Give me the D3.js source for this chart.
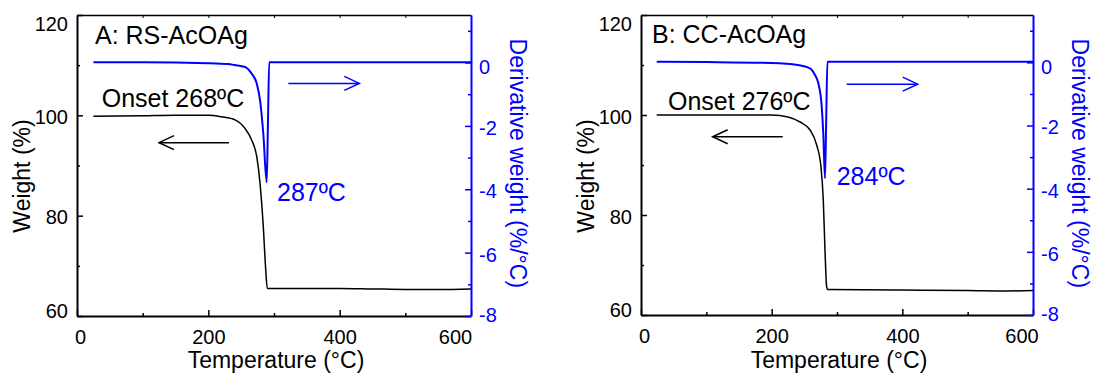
<!DOCTYPE html>
<html>
<head>
<meta charset="utf-8">
<script src="https://cdn.jsdelivr.net/npm/d3@7/dist/d3.min.js"></script>
<style>
  html, body { margin: 0; padding: 0; background: #fff; }
  svg { display: block; font-family: "Liberation Sans", Arial, sans-serif; }
</style>
</head>
<body>
<svg id="chart" width="1097" height="376"></svg>
<script>
// ---------------- DATA ----------------
// Panel A: RS-AcOAg
const tempA_weight = [25, 100, 150, 200, 220, 240.6, 255.8, 266, 273.7, 278.7, 283.7, 287.4, 289.8, 300, 400, 450, 500, 550, 600];
const weightA      = [99.8, 99.9, 100, 100, 99.7, 99.1, 97.4, 95.1, 91.8, 86.5, 77.8, 69.2, 65.5, 65.5, 65.5, 65.4, 65.3, 65.3, 65.4];
const tempA_deriv  = [25, 100, 200, 230, 240, 255.8, 266, 273.7, 278.7, 283.7, 288.9, 290.8, 292.7, 350, 450, 600];
const derivA       = [0.01, 0.01, -0.02, -0.05, -0.08, -0.14, -0.35, -0.66, -1.19, -2.24, -3.78, -1.9, 0.01, 0.01, 0.01, 0.01];

// Panel B: CC-AcOAg
const tempB_weight = [24, 100, 200, 225, 243.4, 258.7, 268.9, 275.5, 279, 281.6, 284.2, 286, 400, 500, 560, 600];
const weightB      = [100, 100, 100, 99.6, 98.6, 97.0, 94.0, 89.6, 83.0, 73.0, 65.6, 65.1, 65.0, 64.9, 64.8, 64.9];
const tempB_deriv  = [24, 100, 200, 240, 258.7, 266.3, 271.4, 276.6, 279.0, 281.6, 283.5, 285.3, 400, 600];
const derivB       = [0.02, 0.01, -0.02, -0.08, -0.19, -0.40, -0.66, -1.40, -2.25, -3.67, -1.8, 0.02, 0.02, 0.02];

// Axis ticks
const xMajorTicks = [0, 200, 400, 600];
const xMinorTicks = [100, 300, 500];
const weightMajorTicks = [60, 80, 100, 120];
const weightMinorTicks = [70, 90, 110];
const derivMajorTicks = [0, -2, -4, -6, -8];
const derivMinorTicks = [1, -1, -3, -5, -7];

// Labels
const titles = ["A: RS-AcOAg", "B: CC-AcOAg"];
const onsetLabels = ["Onset 268ºC", "Onset 276ºC"];
const peakLabels = ["287ºC", "284ºC"];
const xTitle = "Temperature (°C)";
const yLeftTitle = "Weight (%)";
const yRightTitle = "Derivative weight (%/°C)";

// ---------------- LAYOUT ----------------
const svg = d3.select("#chart");
const BLUE = "#0000ff";
const fmt = d => String(d);   // plain hyphen-minus like the original

const panels = [
  { x0: 77, x1: 471, y0: 15, y1: 316,
    tw: tempA_weight, w: weightA, td: tempA_deriv, d: derivA,
    title: titles[0], onset: onsetLabels[0], peak: peakLabels[0],
    titlePos: [95, 44], onsetPos: [101.7, 106.7], peakPos: [277, 200.5],
    blackArrow: { from: 231.5, to: 124.9, w: 94.55 },
    blueArrow: { from: 321.8, to: 429.9, d: -0.66 },
    lastXShift: -16 },
  { x0: 641, x1: 1033, y0: 15, y1: 315,
    tw: tempB_weight, w: weightB, td: tempB_deriv, d: derivB,
    title: titles[1], onset: onsetLabels[1], peak: peakLabels[1],
    titlePos: [652, 43.3], onsetPos: [668, 110], peakPos: [836.7, 185],
    blackArrow: { from: 216.9, to: 109.7, w: 95.64 },
    blueArrow: { from: 314.9, to: 423.5, d: -0.69 },
    lastXShift: -11.5 }
];

panels.forEach(p => {
  const x = d3.scaleLinear().domain([0, 600]).range([p.x0, p.x1]);
  const yW = d3.scaleLinear().domain([60, 120]).range([p.y1, p.y0]);
  const yD = d3.scaleLinear().domain([-8, 1.5]).range([p.y1, p.y0]);
  const g = svg.append("g");

  // ---- Curves ----
  const wData = p.tw.map((t, i) => [t, p.w[i]]);
  const dData = p.td.map((t, i) => [t, p.d[i]]);
  g.append("path")
    .datum(dData)
    .attr("fill", "none").attr("stroke", BLUE).attr("stroke-width", 2)
    .attr("d", d3.line().x(v => x(v[0])).y(v => yD(v[1])).curve(d3.curveMonotoneX));
  g.append("path")
    .datum(wData)
    .attr("fill", "none").attr("stroke", "#000").attr("stroke-width", 1.5)
    .attr("d", d3.line().x(v => x(v[0])).y(v => yW(v[1])).curve(d3.curveMonotoneX));

  // ---- Axes ----
  const fontTick = "20px";
  const bx = g.append("g").attr("transform", `translate(0,${p.y1})`)
    .call(d3.axisBottom(x).tickValues(xMajorTicks).tickSizeInner(-6).tickSizeOuter(0).tickPadding(14).tickFormat(fmt));
  bx.select(".domain").attr("stroke-width", 2);
  bx.selectAll(".tick line").attr("stroke-width", 1.5);
  bx.selectAll(".tick text").attr("font-size", fontTick).attr("fill", "#000")
    .attr("font-family", "Liberation Sans, Arial, sans-serif")
    .attr("dx", d => d === 600 ? p.lastXShift : (d === 0 ? 3 : 0));
  const bxm = g.append("g").attr("transform", `translate(0,${p.y1})`)
    .call(d3.axisBottom(x).tickValues(xMinorTicks).tickSizeInner(-3).tickSizeOuter(0).tickFormat(""));
  bxm.select(".domain").remove();
  bxm.selectAll(".tick line").attr("stroke-width", 1.5);
  const tx = g.append("g").attr("transform", `translate(0,${p.y0})`)
    .call(d3.axisTop(x).tickValues([100, 200, 300, 400, 500]).tickSizeInner(-3).tickSizeOuter(0).tickFormat(""));
  tx.select(".domain").attr("stroke-width", 1.5);

  const ly = g.append("g").attr("transform", `translate(${p.x0},0)`)
    .call(d3.axisLeft(yW).tickValues(weightMajorTicks).tickSizeInner(-6).tickSizeOuter(0).tickPadding(9).tickFormat(fmt));
  ly.select(".domain").attr("stroke-width", 2);
  ly.selectAll(".tick line").attr("stroke-width", 1.5);
  ly.selectAll(".tick text").attr("font-size", fontTick).attr("fill", "#000")
    .attr("font-family", "Liberation Sans, Arial, sans-serif")
    .attr("dy", d => d === 120 ? "0.75em" : (d === 60 ? "0.08em" : "0.4em"));
  const lym = g.append("g").attr("transform", `translate(${p.x0},0)`)
    .call(d3.axisLeft(yW).tickValues(weightMinorTicks).tickSizeInner(-3).tickSizeOuter(0).tickFormat(""));
  lym.select(".domain").remove();
  lym.selectAll(".tick line").attr("stroke-width", 1.5);

  const ry = g.append("g").attr("transform", `translate(${p.x1},0)`)
    .call(d3.axisRight(yD).tickValues(derivMajorTicks).tickSizeInner(-6).tickSizeOuter(0).tickPadding(8).tickFormat(fmt));
  ry.select(".domain").attr("stroke", BLUE).attr("stroke-width", 2);
  ry.selectAll(".tick line").attr("stroke", BLUE).attr("stroke-width", 1.5);
  ry.selectAll(".tick text").attr("font-size", fontTick).attr("fill", BLUE)
    .attr("font-family", "Liberation Sans, Arial, sans-serif")
    .attr("dy", d => d === 0 ? "0.55em" : (d === -8 ? "0.28em" : "0.42em"));
  const rym = g.append("g").attr("transform", `translate(${p.x1},0)`)
    .call(d3.axisRight(yD).tickValues(derivMinorTicks).tickSizeInner(-3).tickSizeOuter(0).tickFormat(""));
  rym.select(".domain").remove();
  rym.selectAll(".tick line").attr("stroke", BLUE).attr("stroke-width", 1.5);

  // ---- Axis titles ----
  g.append("text")
    .attr("x", (p.x0 + p.x1) / 2 + 2).attr("y", 368)
    .attr("text-anchor", "middle").attr("font-size", "23px").attr("fill", "#000")
    .text(xTitle);
  g.append("text")
    .attr("transform", `translate(${p.x0 - 47},176) rotate(-90)`)
    .attr("text-anchor", "middle").attr("font-size", "23px").attr("fill", "#000")
    .text(yLeftTitle);
  g.append("text")
    .attr("transform", `translate(${p.x1 + 39},163.3) rotate(90)`)
    .attr("text-anchor", "middle").attr("font-size", "23px").attr("fill", BLUE)
    .text(yRightTitle);

  // ---- Annotations ----
  g.append("text").attr("x", p.titlePos[0]).attr("y", p.titlePos[1])
    .attr("font-size", "25px").attr("fill", "#000").text(p.title);
  g.append("text").attr("x", p.onsetPos[0]).attr("y", p.onsetPos[1])
    .attr("font-size", "25px").attr("fill", "#000").text(p.onset);
  g.append("text").attr("x", p.peakPos[0]).attr("y", p.peakPos[1])
    .attr("font-size", "25px").attr("fill", BLUE).text(p.peak);

  function arrow(x1, y1, x2, y2, color) {
    const dir = Math.sign(x2 - x1);
    g.append("line").attr("x1", x1).attr("y1", y1).attr("x2", x2).attr("y2", y2)
      .attr("stroke", color).attr("stroke-width", 1.5);
    g.append("path")
      .attr("d", `M${x2 - dir * 15},${y2 - 7} L${x2},${y2} L${x2 - dir * 15},${y2 + 7}`)
      .attr("fill", "none").attr("stroke", color).attr("stroke-width", 1.5);
  }
  arrow(x(p.blackArrow.from), yW(p.blackArrow.w), x(p.blackArrow.to), yW(p.blackArrow.w), "#000");
  arrow(x(p.blueArrow.from), yD(p.blueArrow.d), x(p.blueArrow.to), yD(p.blueArrow.d), BLUE);
});
</script>
</body>
</html>
